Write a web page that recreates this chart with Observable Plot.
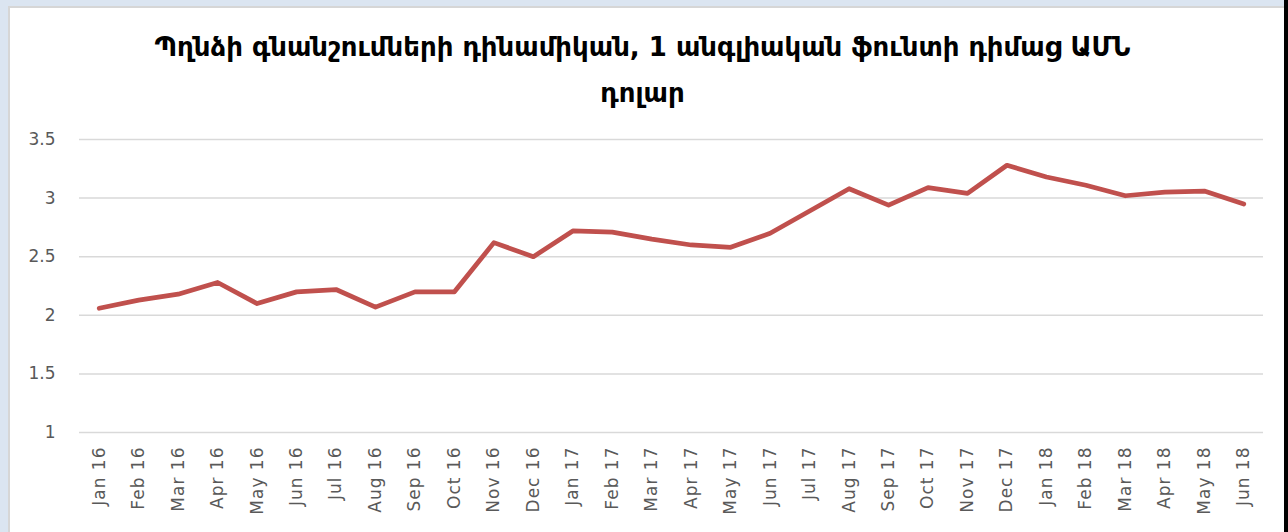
<!DOCTYPE html>
<html>
<head>
<meta charset="utf-8">
<script src="https://cdn.jsdelivr.net/npm/d3@7"></script>
<script src="https://cdn.jsdelivr.net/npm/@observablehq/plot@0.6"></script>
<style>
  html, body { margin: 0; padding: 0; }
  body { width: 1288px; height: 532px; background: #dbe5f1; position: relative; overflow: hidden; }
  #panel { position: absolute; left: 8px; top: 6px; width: 1276px; height: 530px; background: #fff; border-left: 2px solid #d6d6d6; border-top: 2px solid #d6d6d6; box-sizing: border-box; }
  #rightedge { position: absolute; left: 1284px; top: 0; width: 4px; height: 532px; background: #000; }
  #title { position: absolute; left: 6px; width: 1273px; top: 24px; text-align: center; font-family: "DejaVu Sans", sans-serif; font-weight: bold; font-size: 26px; line-height: 46px; color: #000; }
  #chart { position: absolute; left: 10px; top: 120px; }
  g[aria-label="x-axis tick label"] text { letter-spacing: 1px; }
</style>
</head>
<body>
<div id="panel"></div>
<div id="rightedge"></div>
<div id="title">Պղնձի գնանշումների դինամիկան, 1 անգլիական ֆունտի դիմաց ԱՄՆ<br>դոլար</div>
<div id="chart"></div>
<script>
const months = ["Jan 16","Feb 16","Mar 16","Apr 16","May 16","Jun 16","Jul 16","Aug 16","Sep 16","Oct 16","Nov 16","Dec 16",
  "Jan 17","Feb 17","Mar 17","Apr 17","May 17","Jun 17","Jul 17","Aug 17","Sep 17","Oct 17","Nov 17","Dec 17",
  "Jan 18","Feb 18","Mar 18","Apr 18","May 18","Jun 18"];
const prices = [2.06, 2.13, 2.18, 2.28, 2.10, 2.20, 2.22, 2.07, 2.20, 2.20, 2.62, 2.50,
  2.72, 2.71, 2.65, 2.60, 2.58, 2.70, 2.89, 3.08, 2.94, 3.09, 3.04, 3.28,
  3.18, 3.11, 3.02, 3.05, 3.06, 2.95];
const yTicks = [1, 1.5, 2, 2.5, 3, 3.5];

const data = months.map((m, i) => ({month: m, value: prices[i]}));

const chart = Plot.plot({
  width: 1273,
  height: 412,
  marginLeft: 69,
  marginRight: 20,
  marginTop: 19,
  marginBottom: 100,
  style: {background: "transparent", color: "#595959"},
  x: {type: "point", domain: months, padding: 0.5, round: false, label: null},
  y: {domain: [1, 3.5], label: null},
  marks: [
    Plot.ruleY(yTicks, {stroke: "#d9d9d9", strokeWidth: 1.5}),
    Plot.axisY(yTicks, {tickSize: 0, tickPadding: 24, fontSize: 17, fontFamily: "DejaVu Sans", fill: "#595959", tickFormat: d => String(d)}),
    Plot.axisX(months, {tickSize: 0, tickPadding: 14, tickRotate: -90, fontSize: 17, fontFamily: "DejaVu Sans", fill: "#595959"}),
    Plot.line(data, {x: "month", y: "value", stroke: "#c0504d", strokeWidth: 4.75, strokeLinejoin: "round", strokeLinecap: "round"})
  ]
});
document.getElementById("chart").appendChild(chart);
</script>
</body>
</html>
